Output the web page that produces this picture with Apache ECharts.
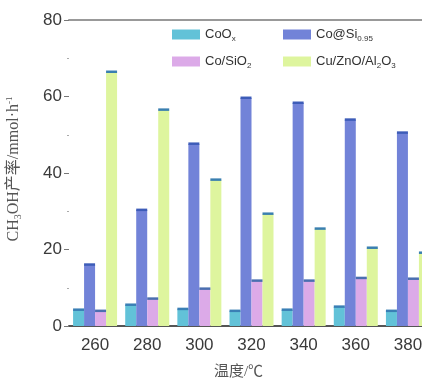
<!DOCTYPE html>
<html><head><meta charset="utf-8">
<script src="https://cdn.jsdelivr.net/npm/echarts@6/dist/echarts.min.js"></script>
<style>html,body{margin:0;padding:0;background:#fff}#c{width:422px;height:381px}</style>
</head><body><div id="c"></div>
<script>
var categories = ['260','280','300','320','340','360','380'];
var seriesNames = ['CoOx','Co@Si0.95','Co/SiO2','Cu/ZnO/Al2O3'];
var coOx      = [4.2, 5.5, 4.4, 3.9, 4.2, 5.0, 3.9];
var coSi      = [16.0, 30.3, 47.6, 59.6, 58.3, 53.9, 50.5];
var coSiO2    = [3.9, 7.1, 9.7, 11.8, 11.8, 12.5, 12.3];
var cuZnO     = [66.4, 56.5, 38.2, 29.3, 25.4, 20.4, 19.1];
var yTicks    = [0, 20, 40, 60, 80];

var colors = ['#62c2d8', '#7283d8', '#dcaae8', '#def59e'];
var capColors = ['#3a7fb5', '#3d5cb8', '#4a6fb0', '#3a7fb0'];
var allData = [coOx, coSi, coSiO2, cuZnO];
var BW = 11;

var chart = echarts.init(document.getElementById('c'));
var series = [];
allData.forEach(function(d, i){
  series.push({
    name: seriesNames[i], type: 'bar', data: d, barWidth: BW, barGap: '0%',
    itemStyle: {color: colors[i]}, silent: true
  });
});
allData.forEach(function(d, i){
  series.push({
    type: 'custom', silent: true, z: 5,
    data: d.map(function(v, k){ return [k, v]; }),
    renderItem: function(params, api){
      var p = api.coord([api.value(0), api.value(1)]);
      var x = p[0] + (i - 2) * BW;
      return {type: 'rect', shape: {x: x, y: p[1] - 1.5, width: BW, height: 2.5},
              style: {fill: capColors[i]}};
    }
  });
});

function legendAt(name, left, top, fmt){
  return {data: [name], left: left, top: top, itemWidth: 28, itemHeight: 10, itemGap: 0,
    icon: 'rect', selectedMode: false,
    formatter: function(){ return fmt; },
    textStyle: {fontFamily: 'Liberation Sans, Arial', fontSize: 13, color: '#333',
      rich: {n: {fontSize: 13, color: '#333'}, s: {fontSize: 8, color: '#333', padding: [8,0,0,0]}}}};
}

chart.setOption({
  animation: false,
  grid: {left: 69, top: 20, width: 365, bottom: 55, containLabel: false, outerBoundsMode: 'none'},
  legend: [
    legendAt('CoOx', 167, 23, '{n|CoO}{s|x}'),
    legendAt('Co@Si0.95', 278, 23, '{n|Co@Si}{s|0.95}'),
    legendAt('Co/SiO2', 167, 50, '{n|Co/SiO}{s|2}'),
    legendAt('Cu/ZnO/Al2O3', 278, 50, '{n|Cu/ZnO/Al}{s|2}{n|O}{s|3}')
  ],
  xAxis: [{
    type: 'category', data: categories,
    axisLine: {lineStyle: {color: '#555', width: 2}},
    axisTick: {show: false},
    axisLabel: {fontFamily: 'Liberation Sans, Arial', fontSize: 17, color: '#3a3a3a', margin: 11},
    name: '温度/℃', nameLocation: 'middle', nameGap: 39,
    nameTextStyle: {fontFamily: 'Liberation Serif, Noto Sans CJK SC', fontSize: 15, color: '#555', padding: [0, 26, 0, 0]}
  }, {
    type: 'category', data: categories, position: 'top',
    axisLine: {show: true, lineStyle: {color: '#999', width: 2}},
    axisTick: {show: false}, axisLabel: {show: false}
  }],
  yAxis: {
    type: 'value', min: yTicks[0], max: yTicks[yTicks.length-1], interval: 20,
    axisLine: {show: true, lineStyle: {color: 'rgba(0,0,0,0)'}},
    axisTick: {show: true, length: 5, lineStyle: {color: '#777'}},
    minorTick: {show: true, splitNumber: 2, length: 2, lineStyle: {color: '#aaa'}},
    splitLine: {show: false},
    axisLabel: {fontFamily: 'Liberation Sans, Arial', fontSize: 17, color: '#3a3a3a', margin: 7},
    name: 'CH{s|3}OH产率/mmol·h{p|-1}', nameLocation: 'middle', nameRotate: 90, nameGap: 46,
    nameTextStyle: {fontFamily: 'Liberation Serif, Noto Sans CJK SC', fontSize: 16, color: '#555',
      padding: [0, 0, 0, 8],
      rich: {s: {fontFamily: 'Liberation Serif', fontSize: 10, color: '#555', padding: [8,0,0,0]},
             p: {fontFamily: 'Liberation Serif', fontSize: 9, color: '#555', padding: [0,0,8,0]}}}
  },
  series: series
});
</script></body></html>
